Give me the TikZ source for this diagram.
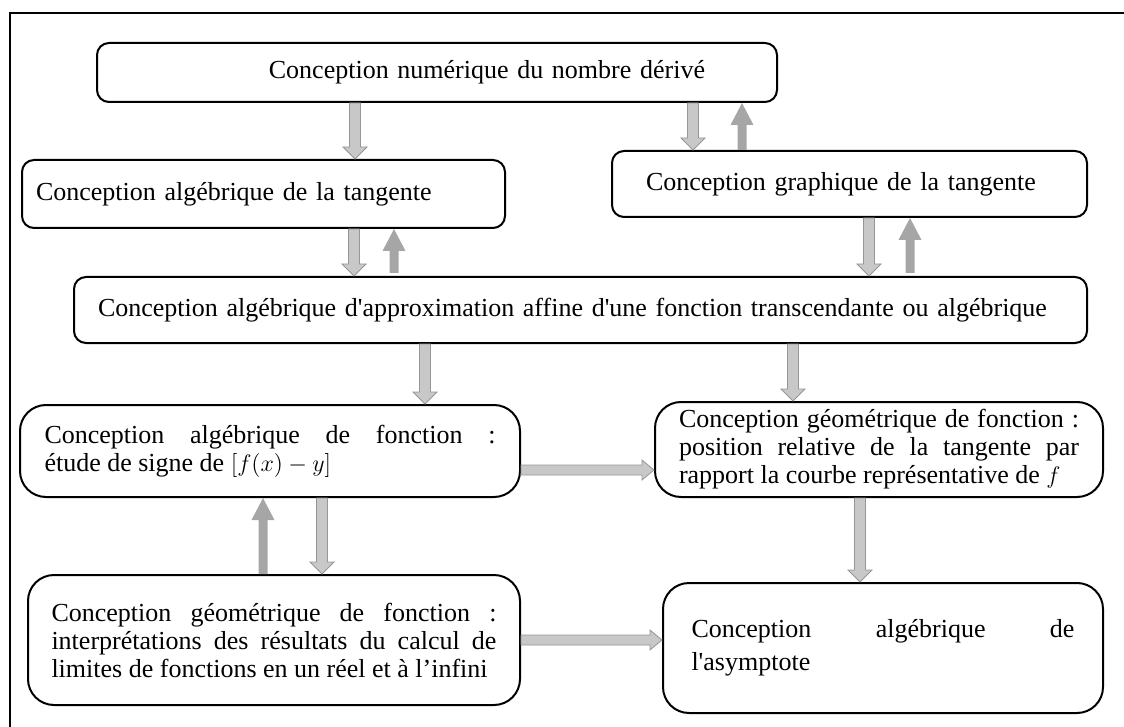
\documentclass[tikz,border=0pt]{standalone}
\usepackage{fontspec}
\setmainfont{Liberation Serif}[Ligatures=TeXOff]
\usepackage{tikz}
\usetikzlibrary{calc,positioning}

\definecolor{arrowlight}{RGB}{200,200,200}
\definecolor{arrowedge}{RGB}{150,150,150}
\definecolor{arrowdark}{RGB}{166,166,166}

\newcommand{\boxfont}{\fontsize{13pt}{14pt}\selectfont\hyphenpenalty=10000 }

% block arrows
\newcommand{\blockdown}[2]{%
  \draw[downblock] let \p1=(#1), \p2=(#2) in
    (\x1-2.75pt,\y1) -- (\x1+2.75pt,\y1) -- (\x1+2.75pt,\y2+6pt) -- (\x1+6pt,\y2+6pt)
    -- (\x1,\y2) -- (\x1-6pt,\y2+6pt) -- (\x1-2.75pt,\y2+6pt) -- cycle;}
\newcommand{\blockup}[2]{%
  \fill[upblock] let \p1=(#1), \p2=(#2) in
    (\x1-2.25pt,\y1) -- (\x1+2.25pt,\y1) -- (\x1+2.25pt,\y2-11pt) -- (\x1+5.75pt,\y2-11pt)
    -- (\x1,\y2) -- (\x1-5.75pt,\y2-11pt) -- (\x1-2.25pt,\y2-11pt) -- cycle;}
\newcommand{\blockright}[2]{%
  \draw[downblock] let \p1=(#1), \p2=(#2) in
    (\x1,\y1+2.5pt) -- (\x1,\y1-2.5pt) -- (\x2-6pt,\y1-2.5pt) -- (\x2-6pt,\y1-5pt)
    -- (\x2,\y1) -- (\x2-6pt,\y1+5pt) -- (\x2-6pt,\y1+2.5pt) -- cycle;}

\tikzset{
  concept/.style={draw, line width=1pt, rounded corners=6pt, font=\boxfont,
    inner xsep=0pt, inner ysep=0pt, align=left},
  bigconcept/.style={concept, rounded corners=13pt, align=justify},
  downblock/.style={fill=arrowlight, draw=arrowedge, line width=0.4pt},
  upblock/.style={fill=arrowdark}
}

\begin{document}
\begin{tikzpicture}[x=0.5pt, y=-0.5pt]
  \useasboundingbox (0,0) rectangle (1124,727);
  \draw[line width=1.4pt] (10,727) -- (10,13) -- (1124,13);

  \node[concept, align=right, minimum width=340pt, minimum height=29.5pt, text width=268pt] (numder) at (437,72.5)
    {Conception numérique du nombre dérivé};
  \node[concept, minimum width=241.5pt, minimum height=34pt, text width=227.5pt] (algtan) at (263.5,194)
    {Conception algébrique de la tangente};
  \node[concept, minimum width=237.5pt, minimum height=33pt, text width=203.5pt] (graphtan) at (849.5,184)
    {Conception graphique de la tangente};
  \node[concept, minimum width=506.5pt, minimum height=33pt, text width=482.5pt] (approx) at (580.5,310)
    {Conception algébrique d'approximation affine d'une fonction transcendante ou algébrique};
  \node[bigconcept, minimum width=250pt, minimum height=46pt, text width=225.5pt] (signe) at (270,451)
    {Conception algébrique de fonction~:\linebreak étude de signe de $[f(x)-y]$};
  \node[bigconcept, minimum width=224pt, minimum height=47.5pt, text width=200pt] (position) at (879,449.5)
    {Conception géométrique de fonction~:\linebreak position relative de la tangente par\linebreak rapport la courbe représentative de $f$};
  \node[bigconcept, minimum width=246pt, minimum height=65pt, text width=222.5pt] (limites) at (274,640)
    {Conception géométrique de fonction~:\linebreak interprétations des résultats du calcul de\linebreak limites de fonctions en un réel et à l’infini};
  \node[bigconcept, minimum width=220pt, minimum height=65pt, text width=191.5pt,
    font=\boxfont\fontsize{13pt}{16.5pt}\selectfont] (asympt) at (883,648)
    {Conception algébrique de\linebreak l'asymptote};

  % arrows between levels
  \blockdown{numder.south -| 355,0}{algtan.north -| 355,0}
  \blockdown{numder.south -| 693,0}{graphtan.north -| 693,0}
  \blockup{graphtan.north -| 742,0}{numder.south -| 742,0}
  \blockdown{algtan.south -| 354,0}{approx.north -| 354,0}
  \blockup{394,273}{algtan.south -| 394,0}
  \blockdown{graphtan.south -| 869,0}{approx.north -| 869,0}
  \blockup{910,273}{graphtan.south -| 910,0}
  \blockdown{approx.south -| 425,0}{signe.north -| 425,0}
  \blockdown{approx.south -| 793,0}{position.north -| 793,0}
  \blockright{signe.east |- 0,470}{position.west |- 0,470}
  \blockup{limites.north -| 263,0}{signe.south -| 263,0}
  \blockdown{signe.south -| 322,0}{limites.north -| 322,0}
  \blockdown{position.south -| 860,0}{asympt.north -| 860,0}
  \blockright{limites.east |- 0,640}{asympt.west |- 0,640}
\end{tikzpicture}
\end{document}
